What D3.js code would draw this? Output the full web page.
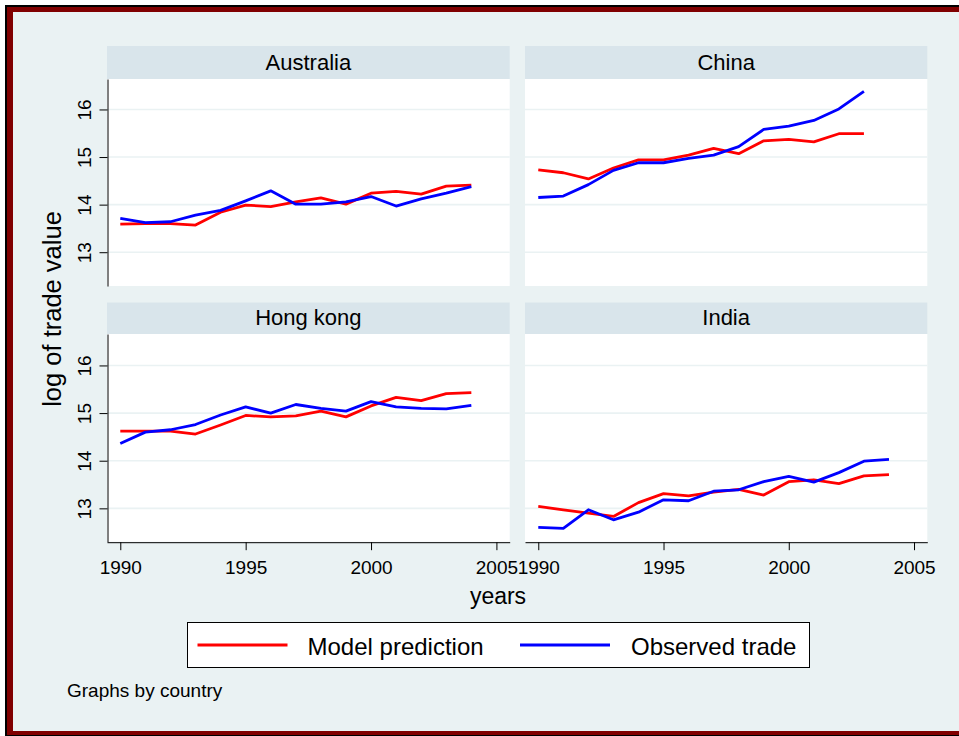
<!DOCTYPE html>
<html>
<head>
<meta charset="utf-8">
<script src="https://cdn.jsdelivr.net/npm/d3@7/dist/d3.min.js"></script>
<style>
  html, body { margin: 0; padding: 0; background: #ffffff; }
  svg { display: block; font-family: "Liberation Sans", Arial, Helvetica, sans-serif; }
</style>
</head>
<body>
<svg id="chart" width="959" height="736"></svg>
<script>
// Log of trade value by country, 1990-2004
const years = [1990, 1991, 1992, 1993, 1994, 1995, 1996, 1997, 1998, 1999, 2000, 2001, 2002, 2003, 2004];
const countries = ["Australia", "China", "Hong kong", "India"];

const australiaModel    = [13.59, 13.60, 13.60, 13.57, 13.84, 13.99, 13.96, 14.06, 14.14, 14.01, 14.24, 14.28, 14.22, 14.39, 14.41];
const australiaObserved = [13.71, 13.62, 13.64, 13.78, 13.88, 14.08, 14.29, 14.01, 14.01, 14.06, 14.17, 13.97, 14.12, 14.24, 14.38];

const chinaModel    = [14.73, 14.67, 14.54, 14.77, 14.94, 14.94, 15.04, 15.18, 15.07, 15.34, 15.37, 15.32, 15.49, 15.49];
const chinaObserved = [14.15, 14.18, 14.42, 14.72, 14.88, 14.88, 14.97, 15.04, 15.22, 15.58, 15.65, 15.77, 16.01, 16.38];

const hongkongModel    = [14.62, 14.62, 14.62, 14.56, 14.75, 14.95, 14.92, 14.94, 15.04, 14.92, 15.15, 15.33, 15.26, 15.41, 15.43];
const hongkongObserved = [14.36, 14.60, 14.65, 14.76, 14.96, 15.13, 15.00, 15.18, 15.10, 15.04, 15.24, 15.13, 15.10, 15.09, 15.16];

const indiaModel    = [13.04, 12.97, 12.90, 12.83, 13.12, 13.31, 13.26, 13.34, 13.40, 13.28, 13.56, 13.60, 13.52, 13.68, 13.71];
const indiaObserved = [12.60, 12.58, 12.97, 12.76, 12.92, 13.18, 13.16, 13.36, 13.39, 13.56, 13.67, 13.55, 13.75, 13.99, 14.03];

const xTicks = [1990, 1995, 2000, 2005];
const yTicks = [13, 14, 15, 16];
const seriesNames = ["Model prediction", "Observed trade"];
const seriesColors = ["#ff0000", "#0000ff"];

const modelByCountry = [australiaModel, chinaModel, hongkongModel, indiaModel];
const observedByCountry = [australiaObserved, chinaObserved, hongkongObserved, indiaObserved];

const svg = d3.select("#chart");
const FONT = '"Liberation Sans", Arial, Helvetica, sans-serif';

// Outer frame: thin black edge, maroon band, pale bluish background
svg.append("rect").attr("x", 5).attr("y", 5).attr("width", 1000).attr("height", 740).attr("fill", "#000000");
svg.append("rect").attr("x", 7).attr("y", 7).attr("width", 1000).attr("height", 728).attr("fill", "#800000");
svg.append("rect").attr("x", 13).attr("y", 12).attr("width", 1000).attr("height", 719).attr("fill", "#eaf2f3");

// Facet geometry
const cols = [{ x0: 107, x1: 509.7 }, { x0: 525, x1: 927.3 }];
const rows = [
  { h0: 46, top: 79, bottom: 286, yDomain: [12.29, 16.64] },
  { h0: 302.5, top: 334, bottom: 541.7, yDomain: [12.3, 16.66] }
];
const xDomain = [1989.47, 2005.53];

countries.forEach((name, i) => {
  const col = cols[i % 2];
  const row = rows[Math.floor(i / 2)];
  const x = d3.scaleLinear().domain(xDomain).range([col.x0, col.x1]);
  const y = d3.scaleLinear().domain(row.yDomain).range([row.bottom, row.top]);

  const g = svg.append("g");

  // Title strip
  g.append("rect")
    .attr("x", col.x0).attr("y", row.h0)
    .attr("width", col.x1 - col.x0).attr("height", row.top - row.h0)
    .attr("fill", "#d9e5eb");
  g.append("text")
    .attr("x", (col.x0 + col.x1) / 2).attr("y", row.top - 9.5)
    .attr("text-anchor", "middle")
    .attr("font-size", 22).attr("fill", "#000")
    .text(name);

  // Plot region
  g.append("rect")
    .attr("x", col.x0).attr("y", row.top)
    .attr("width", col.x1 - col.x0).attr("height", row.bottom - row.top)
    .attr("fill", "#ffffff");

  // Horizontal grid
  g.selectAll("line.grid").data(yTicks).enter().append("line")
    .attr("class", "grid")
    .attr("x1", col.x0).attr("x2", col.x1)
    .attr("y1", d => y(d)).attr("y2", d => y(d))
    .attr("stroke", "#eaf2f3").attr("stroke-width", 1.6);

  // Lines: model first, observed drawn over it
  const line = d3.line().x((d, k) => x(years[k])).y(d => y(d));
  [modelByCountry[i], observedByCountry[i]].forEach((vals, s) => {
    g.append("path")
      .datum(vals)
      .attr("d", line)
      .attr("fill", "none")
      .attr("stroke", seriesColors[s])
      .attr("stroke-width", 2.8)
      .attr("stroke-linejoin", "round");
  });

  // Y axis on left column
  if (i % 2 === 0) {
    const ya = g.append("g")
      .attr("transform", `translate(${col.x0 + 0.5},0)`)
      .call(d3.axisLeft(y).tickValues(yTicks).tickSize(8).tickSizeOuter(0).tickFormat(d3.format("d")));
    ya.select(".domain").attr("stroke", "#000");
    ya.selectAll(".tick line").attr("stroke", "#000");
    ya.selectAll(".tick text")
      .attr("x", null).attr("dy", null)
      .attr("transform", "translate(-16.5,0) rotate(-90)")
      .attr("text-anchor", "middle")
      .attr("font-family", FONT).attr("font-size", 19).attr("fill", "#000");
  }

  // X axis on bottom row
  if (Math.floor(i / 2) === 1) {
    const xa = g.append("g")
      .attr("transform", `translate(0,${row.bottom + 0.5})`)
      .call(d3.axisBottom(x).tickValues(xTicks).tickSize(8).tickSizeOuter(0).tickFormat(d3.format("d")));
    xa.select(".domain").attr("stroke", "#000");
    xa.selectAll(".tick line").attr("stroke", "#000");
    xa.selectAll(".tick text")
      .attr("y", 32).attr("dy", null)
      .attr("font-family", FONT).attr("font-size", 19).attr("fill", "#000");
  }
});

// Axis titles
svg.append("text")
  .attr("transform", "translate(61,309) rotate(-90)")
  .attr("text-anchor", "middle")
  .attr("font-size", 25.5).attr("fill", "#000")
  .text("log of trade value");
svg.append("text")
  .attr("x", 498).attr("y", 604)
  .attr("text-anchor", "middle")
  .attr("font-size", 23).attr("fill", "#000")
  .text("years");

// Legend
const legend = svg.append("g");
legend.append("rect")
  .attr("x", 187.5).attr("y", 622.5).attr("width", 622).attr("height", 45)
  .attr("fill", "#ffffff").attr("stroke", "#000").attr("stroke-width", 1);
const legendItems = [
  { lx: 197.5, tx: 307.5 },
  { lx: 520, tx: 631 }
];
seriesNames.forEach((nm, s) => {
  legend.append("line")
    .attr("x1", legendItems[s].lx).attr("x2", legendItems[s].lx + 90)
    .attr("y1", 645).attr("y2", 645)
    .attr("stroke", seriesColors[s]).attr("stroke-width", 2.8);
  legend.append("text")
    .attr("x", legendItems[s].tx).attr("y", 655)
    .attr("font-size", 24).attr("fill", "#000")
    .text(nm);
});

// Note
svg.append("text")
  .attr("x", 67).attr("y", 697)
  .attr("font-size", 19).attr("fill", "#000")
  .text("Graphs by country");
</script>
</body>
</html>
